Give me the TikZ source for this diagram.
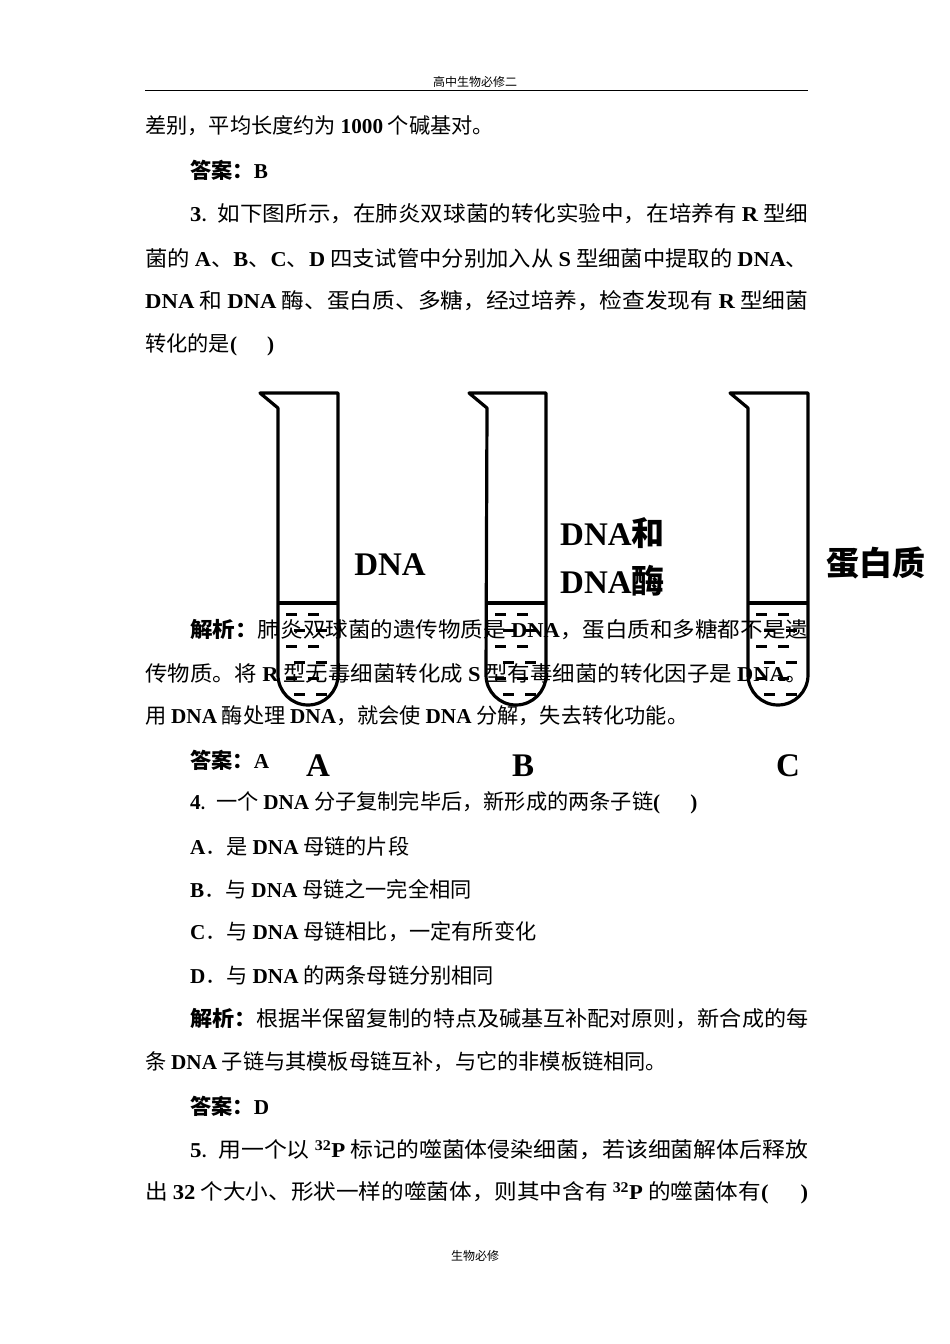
\documentclass[tikz,border=0pt]{standalone}
\usepackage{fontspec}
\usepackage{graphicx}
\setmainfont{Liberation Serif}
\newfontfamily\cjk{Noto Sans CJK SC}
\newcommand\B[1]{{\rmfamily\bfseries #1}}
\newcommand\FW[1]{\resizebox{663pt}{\height}{#1}}
\newcommand\FV[1]{\resizebox{618pt}{\height}{#1}}
\begin{document}
\begin{tikzpicture}[x=1pt,y=-1pt,
  txt/.style={anchor=west,inner sep=0pt,font=\fontsize{21.2}{24}\cjk},
  big/.style={inner sep=0pt,font=\fontsize{33}{38}\rmfamily\bfseries},
  tubeline/.style={line width=3.2pt,line join=round}]
\useasboundingbox (0,0) rectangle (950,1344);
\node[inner sep=0pt,font=\fontsize{12}{14}\cjk] (hd) at (475,82) {高中生物必修二};
\draw[line width=0.8pt] (145,90) -- (808,90);
\node[inner sep=0pt,font=\fontsize{12}{14}\cjk] (ft) at (475,1256) {生物必修};
\node[txt] (l1) at (145,126) {差别，平均长度约为 \B{1000} 个碱基对。};
\node[txt] (l2) at (190,170) {\textbf{答案：}\B{B}};
\node[txt] (l3) at (190,214) {\FV{\B{3}.\ \ 如下图所示，在肺炎双球菌的转化实验中，在培养有 \B{R} 型细}};
\node[txt] (l4) at (145,258) {\FW{菌的 \B{A}、\B{B}、\B{C}、\B{D} 四支试管中分别加入从 \B{S} 型细菌中提取的 \B{DNA}、}};
\node[txt] (l5) at (145,301) {\FW{\B{DNA} 和 \B{DNA} 酶、蛋白质、多糖，经过培养，检查发现有 \B{R} 型细菌}};
\node[txt] (l6) at (145,345) {转化的是\B{(\hspace{30pt})}};
\node[txt] (l7) at (190,630) {\FV{\textbf{解析：}肺炎双球菌的遗传物质是 \B{DNA}，蛋白质和多糖都不是遗}};
\node[txt] (l8) at (145,673) {\FW{传物质。将 \B{R} 型无毒细菌转化成 \B{S} 型有毒细菌的转化因子是 \B{DNA}。}};
\node[txt] (l9) at (145,716) {用 \B{DNA} 酶处理 \B{DNA}，就会使 \B{DNA} 分解，失去转化功能。};
\node[txt] (l10) at (190,760) {\textbf{答案：}\B{A}};
\node[txt] (l11) at (190,803) {\B{4}.\ \ 一个 \B{DNA} 分子复制完毕后，新形成的两条子链\B{(\hspace{30pt})}};
\node[txt] (l12) at (190,846) {\B{A}．是 \B{DNA} 母链的片段};
\node[txt] (l13) at (190,889) {\B{B}．与 \B{DNA} 母链之一完全相同};
\node[txt] (l14) at (190,932) {\B{C}．与 \B{DNA} 母链相比，一定有所变化};
\node[txt] (l15) at (190,975) {\B{D}．与 \B{DNA} 的两条母链分别相同};
\node[txt] (l16) at (190,1019) {\FV{\textbf{解析：}根据半保留复制的特点及碱基互补配对原则，新合成的每}};
\node[txt] (l17) at (145,1062) {条 \B{DNA} 子链与其模板母链互补，与它的非模板链相同。};
\node[txt] (l18) at (190,1106) {\textbf{答案：}\B{D}};
\node[txt] (l19) at (190,1150) {\FV{\B{5}.\ \ 用一个以 \B{\textsuperscript{32}P} 标记的噬菌体侵染细菌，若该细菌解体后释放}};
\node[txt] (l20) at (145,1193) {\FW{出 \B{32} 个大小、形状一样的噬菌体，则其中含有 \B{\textsuperscript{32}P} 的噬菌体有\B{(\hspace{30pt})}}};
% tubes
\foreach \L/\R in {278/338, 487/546, 748/808}{
  \draw[tubeline] (\L-18,393) -- (\R,393) -- (\R,675) arc[start angle=0,end angle=-180,radius=30pt] -- (\L,408) -- cycle;
  \draw[tubeline] (\L,603) -- (\R,603);
  \foreach \yy/\o in {614/0,630/8,646/0,662/8,678/0,694/8}{
    \draw[line width=3pt] (\L+8+\o,\yy) -- ++(11,0);
    \draw[line width=3pt] (\L+30+\o,\yy) -- ++(11,0);
  }
}
\node[big] (ta) at (390,565) {DNA};
\node[big,anchor=west] (tb1) at (560,533) {DNA{\cjk 和}};
\node[big,anchor=west] (tb2) at (560,581) {DNA{\cjk 酶}};
\node[big,anchor=west] (tc) at (826,563) {\cjk 蛋白质};
\node[big] (la) at (318,766) {A};
\node[big] (lb) at (523,766) {B};
\node[big] (lc) at (788,766) {C};
\end{tikzpicture}
\end{document}
